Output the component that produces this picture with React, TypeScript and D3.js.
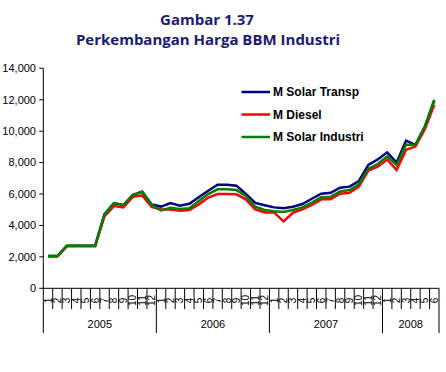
import React from 'react';
import * as d3 from 'd3';

const years = ['2005', '2006', '2007', '2008'];
const monthsPerYear = [12, 12, 12, 6];
const monthLabels = [
  '1', '2', '3', '4', '5', '6', '7', '8', '9', '10', '11', '12',
  '1', '2', '3', '4', '5', '6', '7', '8', '9', '10', '11', '12',
  '1', '2', '3', '4', '5', '6', '7', '8', '9', '10', '11', '12',
  '1', '2', '3', '4', '5', '6',
];
const yTicks = [0, 2000, 4000, 6000, 8000, 10000, 12000, 14000];

const solarTransp = [
  2050, 2050, 2700, 2700, 2700, 2700, 4720, 5400, 5300, 5950, 6150, 5330,
  5200, 5430, 5260, 5380, 5790, 6210, 6590, 6590, 6530, 6000, 5430, 5280,
  5150, 5100, 5190, 5360, 5700, 6020, 6080, 6400, 6470, 6830, 7850, 8200,
  8650, 8000, 9400, 9130, 10290, 11950,
];
const diesel = [
  2030, 2030, 2680, 2680, 2680, 2680, 4590, 5230, 5150, 5820, 5910, 5180,
  5010, 5020, 4940, 4980, 5340, 5770, 6000, 6000, 5980, 5660, 5020, 4830,
  4830, 4260, 4810, 5020, 5300, 5660, 5660, 6020, 6080, 6470, 7490, 7740,
  8200, 7530, 8810, 9020, 10120, 11670,
];
const solarIndustri = [
  2050, 2050, 2700, 2700, 2700, 2700, 4720, 5420, 5300, 5930, 6140, 5300,
  4960, 5130, 5040, 5090, 5550, 6000, 6300, 6300, 6250, 5870, 5190, 4980,
  4900, 4850, 4980, 5150, 5450, 5790, 5830, 6170, 6250, 6620, 7610, 7910,
  8400, 7850, 9130, 9130, 10290, 12000,
];

const seriesNames = ['M Solar Transp', 'M Diesel', 'M Solar Industri'];
const seriesData = [solarTransp, diesel, solarIndustri];
const seriesColors = ['#000080', '#ff0000', '#008000'];

const W = 446;
const H = 372;
const left = 43.3;
const right = 439;
const top = 68.3;
const bottom = 288.3;
const axisFont = '"Liberation Sans", Arial, sans-serif';

export default function App() {
  const idx = monthLabels.map((_, i) => i);
  const x = d3.scaleBand<number>().domain(idx).range([left, right]).padding(0);
  const y = d3.scaleLinear().domain([0, 14000]).range([bottom, top]);
  const bw = x.bandwidth();
  const cx = (i: number) => (x(i) as number) + bw / 2;
  const line = d3
    .line<number>()
    .x((_, i) => cx(i))
    .y((d) => y(d));
  const fmt = d3.format(',');

  const yearStarts: number[] = [];
  let acc = 0;
  monthsPerYear.forEach((n) => {
    yearStarts.push(acc);
    acc += n;
  });
  const boundaries = [...yearStarts, acc];

  return (
    <svg
      width={W}
      height={H}
      style={{ position: 'absolute', left: 0, top: 0, background: '#fff' }}
    >
      <rect x={0} y={0} width={W} height={H} fill="#fff" />
      <g fontFamily='"Open Sans", "Noto Sans", sans-serif' fontWeight="bold" fill="#1a1a78" textAnchor="middle">
        <text x={207} y={24.5} fontSize={15}>Gambar 1.37</text>
        <text x={208} y={44.5} fontSize={15}>Perkembangan Harga BBM Industri</text>
      </g>

      {/* y axis */}
      <line x1={left} x2={left} y1={top} y2={bottom} stroke="#000" strokeWidth={1} />
      {yTicks.map((t) => (
        <g key={t}>
          <line x1={left - 4} x2={left} y1={y(t)} y2={y(t)} stroke="#000" strokeWidth={1} />
          <text
            x={36}
            y={y(t)}
            dy="0.35em"
            textAnchor="end"
            fontSize={11}
            fontFamily={axisFont}
            fill="#000"
          >
            {fmt(t)}
          </text>
        </g>
      ))}

      {/* x axis */}
      <line x1={left} x2={right} y1={bottom} y2={bottom} stroke="#000" strokeWidth={1} />
      {idx.map((i) =>
        i === 0 || boundaries.includes(i) ? null : (
          <line
            key={'d' + i}
            x1={x(i) as number}
            x2={x(i) as number}
            y1={bottom}
            y2={309}
            stroke="#000"
            strokeWidth={1}
          />
        )
      )}
      {boundaries.map((b) => {
        const xx = b < monthLabels.length ? (x(b) as number) : right;
        return (
          <line key={'b' + b} x1={xx} x2={xx} y1={bottom} y2={333} stroke="#000" strokeWidth={1} />
        );
      })}
      {monthLabels.map((m, i) => (
        <text
          key={'m' + i}
          transform={`translate(${cx(i)},${300.5}) rotate(-90)`}
          dy="0.35em"
          textAnchor="middle"
          fontSize={10}
          fontFamily={axisFont}
          fill="#000"
        >
          {m}
        </text>
      ))}
      {years.map((yr, k) => {
        const s = boundaries[k];
        const e = boundaries[k + 1];
        const x0 = x(s) as number;
        const x1 = e < monthLabels.length ? (x(e) as number) : right;
        return (
          <text
            key={yr}
            x={(x0 + x1) / 2}
            y={328}
            textAnchor="middle"
            fontSize={11}
            fontFamily={axisFont}
            fill="#000"
          >
            {yr}
          </text>
        );
      })}

      {/* series */}
      {seriesData.map((d, k) => (
        <path
          key={seriesNames[k]}
          d={line(d) || ''}
          fill="none"
          stroke={seriesColors[k]}
          strokeWidth={2.5}
          strokeLinejoin="miter"
        />
      ))}

      {/* legend */}
      {seriesNames.map((n, k) => {
        const ly = 92 + k * 22.5;
        return (
          <g key={'l' + n}>
            <line x1={241.5} x2={270} y1={ly} y2={ly} stroke={seriesColors[k]} strokeWidth={2.5} />
            <text
              x={273}
              y={ly}
              dy="0.35em"
              fontSize={12}
              fontWeight="bold"
              fontFamily={axisFont}
              fill="#000"
            >
              {n}
            </text>
          </g>
        );
      })}
    </svg>
  );
}
